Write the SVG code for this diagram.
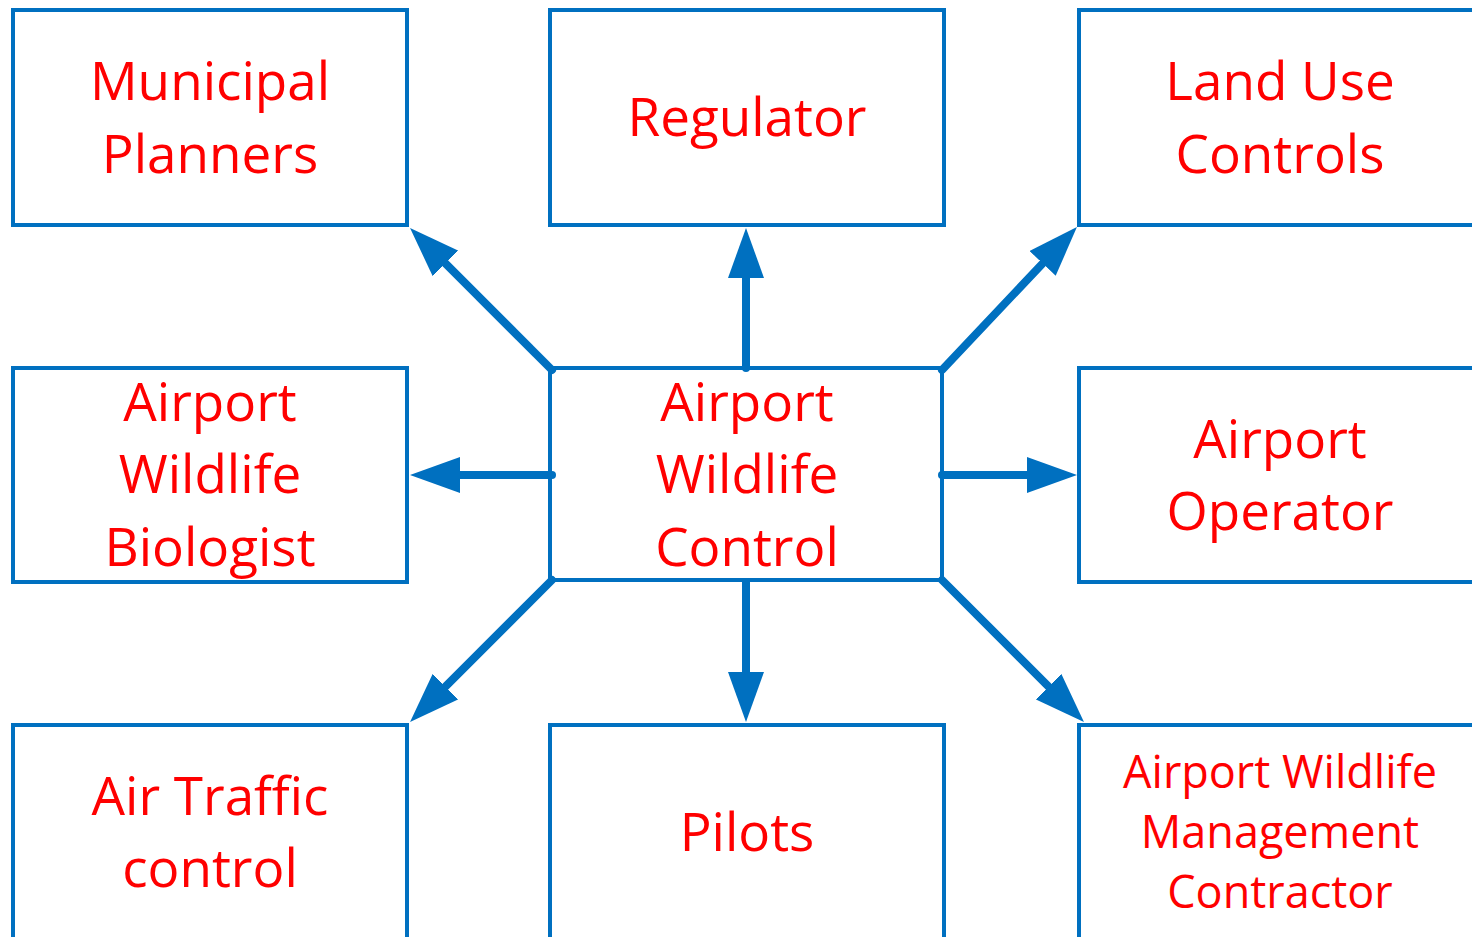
<svg xmlns="http://www.w3.org/2000/svg" width="1472" height="937" viewBox="0 0 1472 937">
<defs>
<style>
.box{fill:#fff;stroke:#0070C0;stroke-width:4}
.t{fill:#FF0000;font-family:"Open Sans","Liberation Sans",sans-serif;font-size:53px;text-anchor:middle}
.s{font-size:45px}
.c{stroke:#0070C0;stroke-width:8;stroke-linecap:round;fill:none;marker-end:url(#ah)}
</style>
<marker id="ah" viewBox="0 -18 50 36" refX="0" refY="0" markerWidth="50" markerHeight="36" markerUnits="userSpaceOnUse" orient="auto">
<path d="M0,-18 L50,0 L0,18 z" fill="#0070C0"/>
</marker>
</defs>
<rect width="1472" height="937" fill="#fff"/>
<g id="municipal"><rect class="box" x="13" y="10" width="394" height="215"/><text class="t" x="210" y="100">Municipal</text><text class="t" x="210" y="173">Planners</text></g>
<g id="regulator"><rect class="box" x="550" y="10" width="394" height="215"/><text class="t" x="747" y="136">Regulator</text></g>
<g id="landuse"><rect class="box" x="1079" y="10" width="400" height="215"/><text class="t" x="1280" y="100">Land Use</text><text class="t" x="1280" y="173">Controls</text></g>
<g id="biologist"><rect class="box" x="13" y="368" width="394" height="214"/><text class="t" x="210" y="421">Airport</text><text class="t" x="210" y="493">Wildlife</text><text class="t" x="210" y="566">Biologist</text></g>
<g id="center"><rect class="box" x="550" y="368" width="392" height="212"/><text class="t" x="747" y="421">Airport</text><text class="t" x="747" y="493">Wildlife</text><text class="t" x="747" y="566">Control</text></g>
<g id="operator"><rect class="box" x="1079" y="368" width="400" height="214"/><text class="t" x="1280" y="458">Airport</text><text class="t" x="1280" y="530">Operator</text></g>
<g id="atc"><rect class="box" x="13" y="725" width="394" height="230"/><text class="t" x="210" y="815">Air Traffic</text><text class="t" x="210" y="887">control</text></g>
<g id="pilots"><rect class="box" x="550" y="725" width="394" height="230"/><text class="t" x="747" y="851">Pilots</text></g>
<g id="contractor"><rect class="box" x="1079" y="725" width="400" height="230"/><text class="t s" x="1280" y="788">Airport Wildlife</text><text class="t s" x="1280" y="848">Management</text><text class="t s" x="1280" y="908">Contractor</text></g>
<g id="connectors">
<line class="c" x1="552" y1="370" x2="445.4" y2="263.4"/>
<line class="c" x1="746" y1="368" x2="746" y2="278"/>
<line class="c" x1="942" y1="370" x2="1042.6" y2="263.4"/>
<line class="c" x1="552" y1="475" x2="460" y2="475"/>
<line class="c" x1="942" y1="475" x2="1027" y2="475"/>
<line class="c" x1="552" y1="580" x2="445.4" y2="686.6"/>
<line class="c" x1="746" y1="582" x2="746" y2="672"/>
<line class="c" x1="942" y1="580" x2="1048.6" y2="686.6"/>
</g>
</svg>
